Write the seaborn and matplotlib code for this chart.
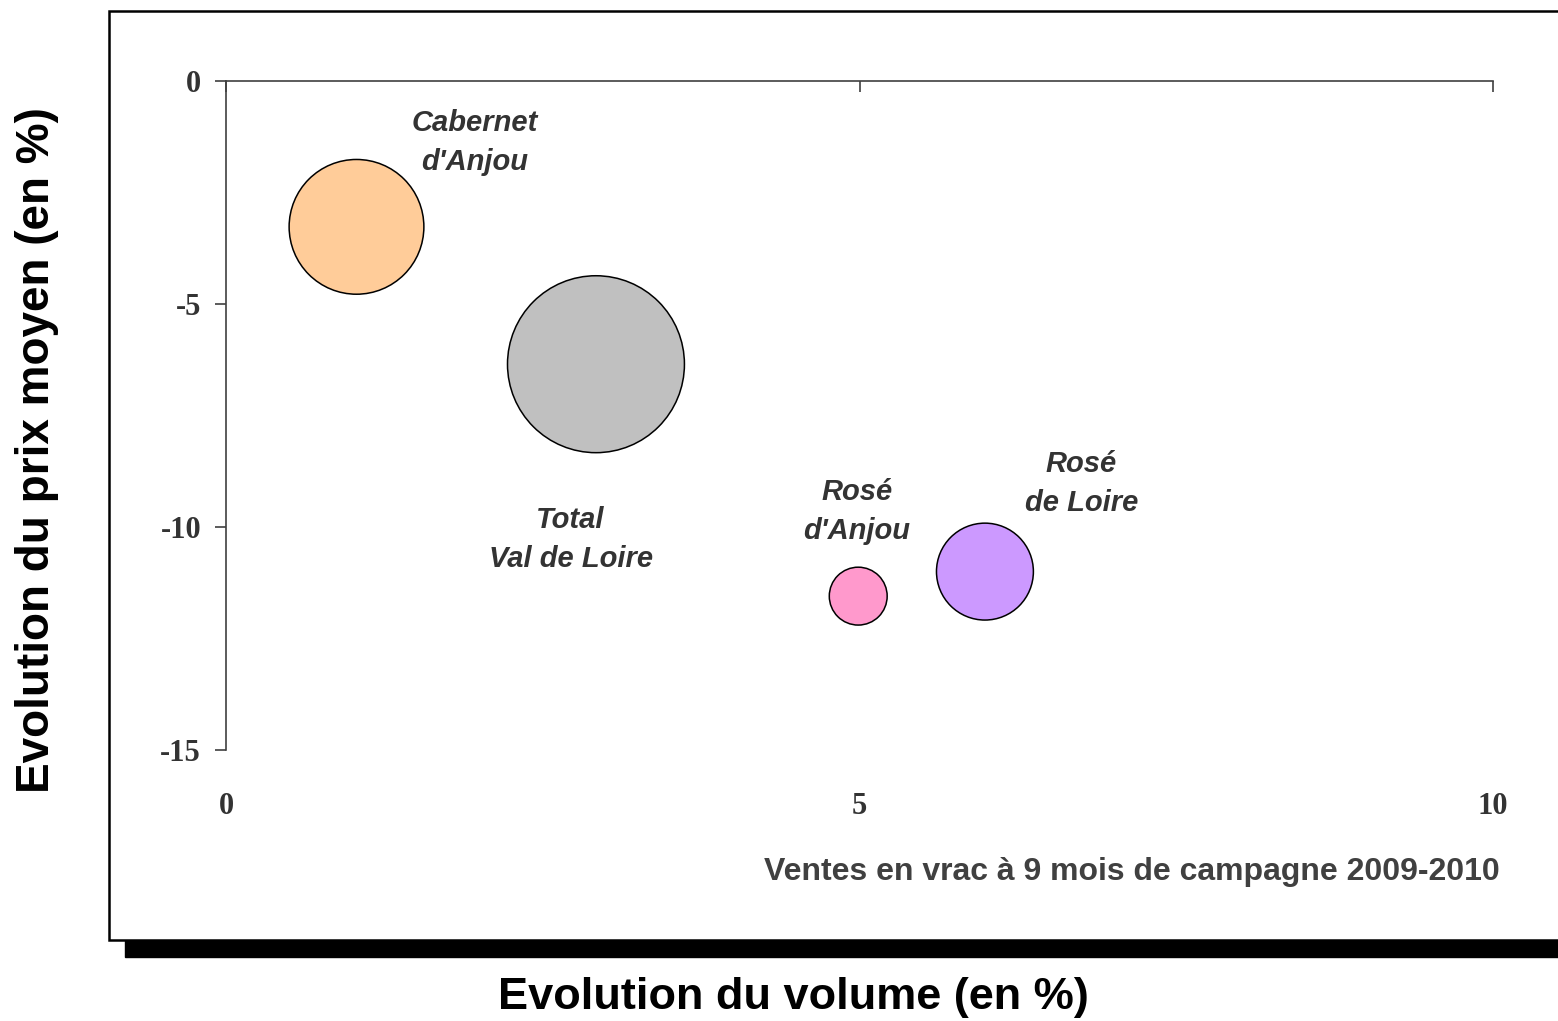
import pandas as pd
import matplotlib.pyplot as plt
from matplotlib.patches import Rectangle
import seaborn as sns

sns.set_style("white")
plt.rcParams['font.family'] = ['Liberation Sans', 'DejaVu Sans']
plt.rcParams['axes.unicode_minus'] = False

# data
appellations = ["Cabernet\nd'Anjou", "Total\nVal de Loire", "Rosé\nd'Anjou", "Rosé\nde Loire"]
volume_evol = [1.03, 2.92, 4.99, 5.99]
price_evol = [-3.27, -6.35, -11.55, -11.0]
bubble_weight = [58, 100, 10.7, 30]
colors = ["#FFCC99", "#C0C0C0", "#FF99CC", "#CC99FF"]

# label placement relative to each bubble (data units)
label_dx = [0.93, -0.2, -0.01, 0.76]
label_dy = [1.88, -3.94, 1.9, 1.97]

x_ticks = [0, 5, 10]
y_ticks = [0, -5, -10, -15]


def plot_bubbles(df):
    fig = plt.figure(figsize=(15.58, 10.21), dpi=100)

    # outer chart frame with its shadow, behind everything
    fig.patches.append(Rectangle((125 / 1558, 64 / 1021), 1.0, 17 / 1021,
                                 transform=fig.transFigure, color="black", zorder=-2))
    fig.patches.append(Rectangle((109 / 1558, 81 / 1021), 1.0, 929 / 1021,
                                 transform=fig.transFigure, facecolor="white",
                                 edgecolor="black", linewidth=1.8, zorder=-1))

    ax = fig.add_axes([226 / 1558, 271 / 1021, 1267 / 1558, 669 / 1021])
    ax.patch.set_alpha(0)

    sns.scatterplot(data=df, x="volume", y="price", hue="name", size="weight",
                    palette=dict(zip(df["name"], colors)),
                    sizes=(0, 16230), size_norm=(0, 100),
                    edgecolor="black", linewidth=1.1, alpha=1,
                    legend=False, ax=ax, zorder=3, clip_on=False)

    for _, r in df.iterrows():
        ax.text(r["volume"] + r["dx"], r["price"] + r["dy"], r["name"],
                ha="center", va="center", fontsize=21, fontweight="bold",
                fontstyle="italic", color="#333333", linespacing=1.5)

    ax.set_xlim(0, 10)
    ax.set_ylim(-15, 0)
    ax.set_xticks(x_ticks)
    ax.set_yticks(y_ticks)
    ax.set_xlabel("")
    ax.set_ylabel("")

    for side in ["right", "bottom"]:
        ax.spines[side].set_visible(False)
    for side in ["left", "top"]:
        ax.spines[side].set_color("#404040")
        ax.spines[side].set_linewidth(1.2)

    ax.tick_params(axis="x", bottom=True, top=True, labelbottom=True, labeltop=False,
                   direction="in", length=8, width=1.2, color="#404040", pad=30)
    for t in ax.xaxis.get_major_ticks():
        t.tick1line.set_visible(False)
    ax.tick_params(axis="y", left=True, direction="out", length=8, width=1.2,
                   color="#404040", pad=10)

    for lab in ax.get_xticklabels() + ax.get_yticklabels():
        lab.set_fontfamily("Liberation Serif")
        lab.set_fontweight("bold")
        lab.set_fontsize(22)
        lab.set_color("#333333")

    ax.text(1.005, -0.182, "Ventes en vrac à 9 mois de campagne 2009-2010",
            transform=ax.transAxes, ha="right", va="center", fontsize=23,
            fontweight="bold", color="#404040")

    fig.text(793 / 1558, 1 - 997 / 1021, "Evolution du volume (en %)", ha="center",
             va="center", fontsize=32.5, fontweight="bold", color="black")
    fig.text(37 / 1558, 1 - 450 / 1021, "Evolution du prix moyen (en %)", ha="center",
             va="center", rotation=90, fontsize=33, fontweight="bold", color="black")

    fig.savefig("out.png", dpi=100)
    plt.close(fig)


def run():
    df = pd.DataFrame({"name": appellations, "volume": volume_evol, "price": price_evol,
                       "weight": bubble_weight, "dx": label_dx, "dy": label_dy})
    plot_bubbles(df)


if __name__ == "__main__":
    run()
